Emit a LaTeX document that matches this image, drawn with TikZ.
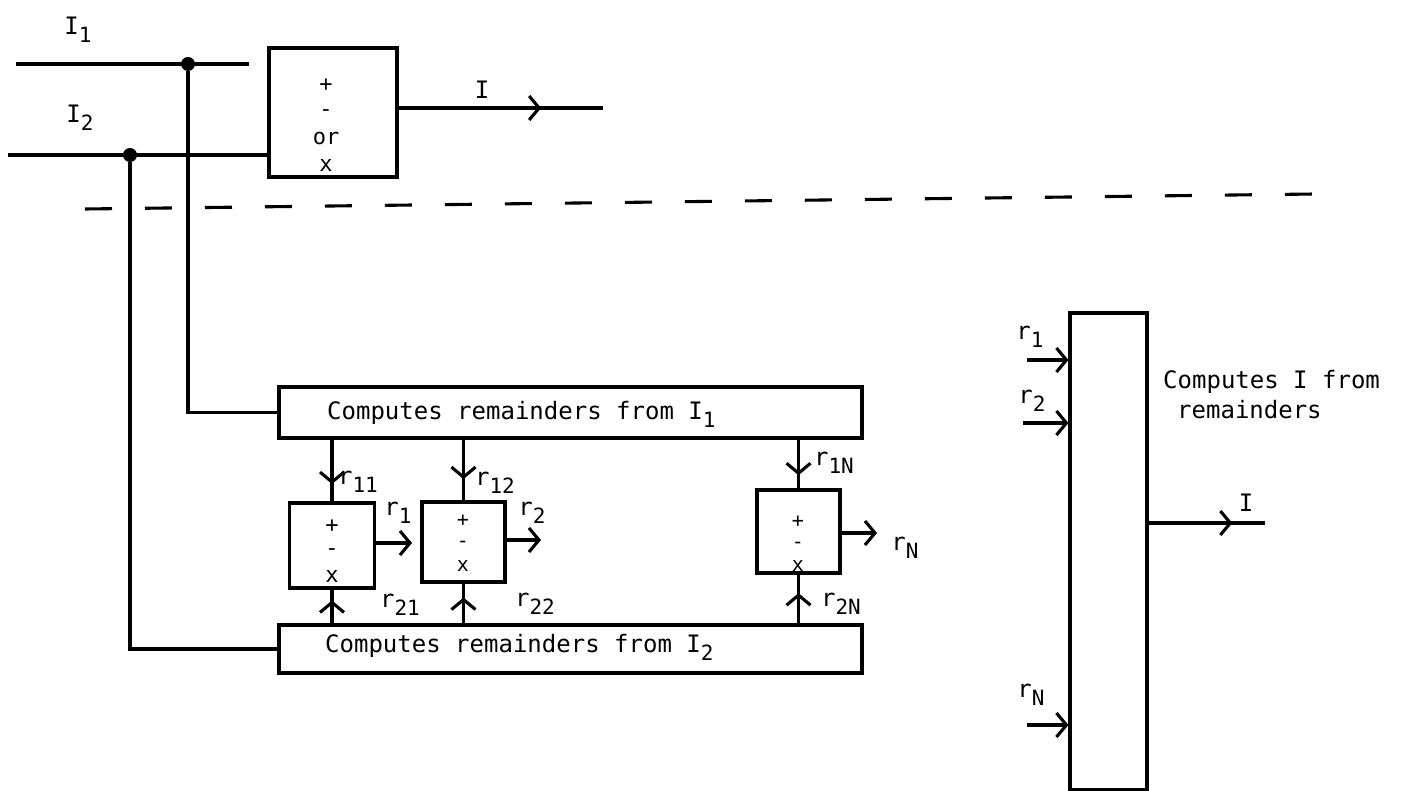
\documentclass[tikz,border=0pt]{standalone}
\usepackage{fontspec}
\setmonofont{DejaVu Sans Mono}
\usetikzlibrary{arrows.meta,decorations.markings}
\newcommand{\dn}[1]{\raisebox{-0.34em}{\fontsize{21}{21}\selectfont #1}}
\begin{document}
\begin{tikzpicture}[x=1pt,y=-1pt,
  every node/.style={font=\fontsize{24}{26}\selectfont\ttfamily, inner sep=0pt},
  sym/.style={font=\fontsize{22}{22}\selectfont\ttfamily},
  symsm/.style={font=\fontsize{20}{20}\selectfont\ttfamily},
  ln/.style={line width=3.1pt},
  box/.style={draw, line width=3.1pt, inner sep=0pt},
  dot/.style={circle, fill, minimum size=14pt, inner sep=0pt},
  >={Straight Barb[length=10pt,width=24pt]},
  midarr/.style={postaction={decorate,decoration={markings,mark=at position #1 with {\arrow{>}}}}}
]
\useasboundingbox (0,0) rectangle (1401,791);

% ---------- top section ----------
\node (lI1) at (78,30) {I\dn{1}};
\node (lI2) at (80,118) {I\dn{2}};
\coordinate (i1s) at (16,64);
\coordinate (i1e) at (249,64);
\coordinate (i2s) at (8,155);
\node[box, minimum width=128pt, minimum height=129pt] (top) at (333,112.5) {};
\node[sym] (tp) at (326,85) {+};
\node[sym] (tm) at (326,113) {-};
\node[sym] (tor) at (326,138) {or};
\node[sym] (tx) at (326,165) {x};
\node[dot] (d1) at (188,64) {};
\node[dot] (d2) at (130,155) {};
\draw[ln] (i1s) -- (i1e);
\draw[ln] (i2s) -- (i2s -| top.west);
\coordinate (topout) at (397,108);
\coordinate (topend) at (603,108);
\draw[ln, midarr=0.7] (topout) -- (topend);
\node (lIout) at (482,90) {I};

% dashed separator
\coordinate (dsA) at (85,209);
\coordinate (dsB) at (1315,194);
\draw[ln, dash pattern=on 27pt off 33pt] (dsA) -- (dsB);

% ---------- lower section ----------
\node[box, minimum width=583pt, minimum height=51pt] (box1) at (570.5,412.5) {};
\node[anchor=west] (t1) at (327,414) {Computes remainders from I\dn{1}};
\node[box, minimum width=583pt, minimum height=48pt] (box2) at (570.5,649) {};
\node[anchor=west] (t2) at (325,647) {Computes remainders from I\dn{2}};

\draw[ln] (d1) |- (box1.west);
\draw[ln] (d2) |- (box2.west);

\node[box, minimum width=85pt, minimum height=85pt] (A) at (332,545.5) {};
\node[box, minimum width=83pt, minimum height=80pt] (B) at (463.5,542) {};
\node[box, minimum width=83pt, minimum height=83pt] (C) at (798.5,531.5) {};
\node[sym] (Ap) at (332,526) {+};
\node[sym] (Am) at (332,552) {-};
\node[sym] (Ax) at (332,576) {x};
\node[symsm] (Bp) at (463,521) {+};
\node[symsm] (Bm) at (463,544) {-};
\node[symsm] (Bx) at (463,566) {x};
\node[symsm] (Cp) at (798,522) {+};
\node[symsm] (Cm) at (798,545) {-};
\node[symsm] (Cx) at (798,566) {x};

% inputs from box1
\draw[ln, midarr=0.72] (A.north |- box1.south) -- (A.north);
\draw[ln, midarr=0.65] (B.north |- box1.south) -- (B.north);
\draw[ln, midarr=0.73] (C.north |- box1.south) -- (C.north);
% inputs from box2
\draw[ln, midarr=0.68] (A.south |- box2.north) -- (A.south);
\draw[ln, midarr=0.65] (B.south |- box2.north) -- (B.south);
\draw[ln, midarr=0.62] (C.south |- box2.north) -- (C.south);
% outputs
\coordinate (r1e) at (412,543);
\coordinate (r2e) at (541,540);
\coordinate (rNe) at (877,533);
\draw[ln, ->] (A.east |- r1e) -- (r1e);
\draw[ln, ->] (B.east |- r2e) -- (r2e);
\draw[ln, ->] (C.east |- rNe) -- (rNe);

\node (l11) at (358,482) {r\dn{11}};
\node (l12) at (495,483) {r\dn{12}};
\node (l1N) at (834,463) {r\dn{1N}};
\node (lr1) at (398,513) {r\dn{1}};
\node (lr2) at (532,513) {r\dn{2}};
\node (lrN) at (905,548) {r\dn{N}};
\node (l21) at (400,605) {r\dn{21}};
\node (l22) at (535,604) {r\dn{22}};
\node (l2N) at (841,604) {r\dn{2N}};

% ---------- right block ----------
\node[box, minimum width=77pt, minimum height=477pt] (big) at (1108.5,551.5) {};
\coordinate (in1) at (1027,360);
\coordinate (in2) at (1023,423);
\coordinate (inN) at (1027,725);
\draw[ln, ->] (in1) -- (in1 -| big.west);
\draw[ln, ->] (in2) -- (in2 -| big.west);
\draw[ln, ->] (inN) -- (inN -| big.west);
\node (rl1) at (1030,337) {r\dn{1}};
\node (rl2) at (1032,401) {r\dn{2}};
\node (rlN) at (1031,695) {r\dn{N}};
\coordinate (bigout) at (1265,523);
\draw[ln, midarr=0.72] (bigout -| big.east) -- (bigout);
\node (lIr) at (1246,503) {I};
\node[anchor=west] (cap1) at (1163,382) {Computes I from};
\node[anchor=west] (cap2) at (1177,410) {remainders};
\end{tikzpicture}
\end{document}
